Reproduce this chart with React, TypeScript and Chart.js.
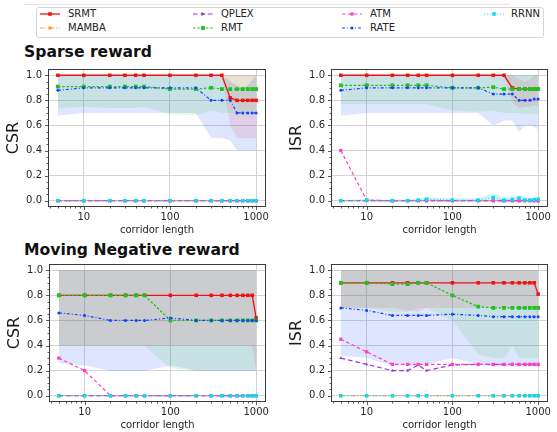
import React, { useEffect, useRef } from "react";
import { Chart, registerables } from "chart.js";
Chart.register(...registerables);

const FONT = "'DejaVu Sans', 'Liberation Sans', sans-serif";

// ---------- shared axes ----------
const corridorLengths = [5, 10, 20, 30, 40, 50, 100, 200, 300, 400, 500, 600, 700, 800, 900, 1000];
const xMajorTicks = [10, 100, 1000];
const yTickValues = [0, 0.2, 0.4, 0.6, 0.8, 1.0];
const seriesNames = ["SRMT", "MAMBA", "QPLEX", "RMT", "ATM", "RATE", "RRNN"];
const allZero = [0, 0, 0, 0, 0, 0, 0, 0, 0, 0, 0, 0, 0, 0, 0, 0];
const allOne = [1, 1, 1, 1, 1, 1, 1, 1, 1, 1, 1, 1, 1, 1, 1, 1];

// ---------- Sparse reward : CSR ----------
const sparseCsrSRMT = [1, 1, 1, 1, 1, 1, 1, 1, 1, 1, 0.82, 0.8, 0.8, 0.8, 0.8, 0.8];
const sparseCsrRMT = [0.91, 0.91, 0.91, 0.91, 0.91, 0.91, 0.89, 0.89, 0.9, 0.89, 0.89, 0.89, 0.89, 0.89, 0.89, 0.89];
const sparseCsrRATE = [0.88, 0.9, 0.9, 0.9, 0.9, 0.9, 0.9, 0.9, 0.8, 0.8, 0.8, 0.7, 0.7, 0.7, 0.7, 0.7];
const sparseCsrSRMTLow = [1, 1, 1, 1, 1, 1, 1, 1, 1, 1, 0.6, 0.5, 0.5, 0.5, 0.5, 0.5];
const sparseCsrRMTLow = [0.74, 0.75, 0.74, 0.74, 0.74, 0.75, 0.69, 0.68, 0.72, 0.7, 0.7, 0.7, 0.7, 0.7, 0.7, 0.7];
const sparseCsrRATEHigh = [1, 1, 1, 1, 1, 1, 1, 1, 1, 1, 0.95, 0.92, 0.9, 0.92, 0.96, 1];
const sparseCsrRATELow = [0.68, 0.7, 0.7, 0.7, 0.7, 0.7, 0.7, 0.7, 0.5, 0.5, 0.48, 0.4, 0.4, 0.4, 0.4, 0.4];

// ---------- Sparse reward : ISR ----------
const sparseIsrSRMT = [1, 1, 1, 1, 1, 1, 1, 1, 1, 1, 0.9, 0.89, 0.89, 0.89, 0.89, 0.89];
const sparseIsrRMT = [0.92, 0.92, 0.92, 0.92, 0.92, 0.92, 0.9, 0.9, 0.905, 0.89, 0.89, 0.89, 0.89, 0.89, 0.89, 0.89];
const sparseIsrRATE = [0.88, 0.9, 0.9, 0.9, 0.9, 0.9, 0.9, 0.9, 0.85, 0.85, 0.85, 0.8, 0.8, 0.8, 0.81, 0.81];
const sparseIsrATM = [0.4, 0.005, 0, 0, 0, 0, 0, 0, 0, 0, 0, 0, 0, 0, 0, 0];
const sparseIsrRRNN = [0, 0.005, 0, 0, 0.005, 0.012, 0.005, 0.005, 0.025, 0.005, 0.01, 0.02, 0.005, 0.005, 0.008, 0.012];
const sparseIsrSRMTHigh = [1, 1, 1, 1, 1, 1, 1, 1, 1, 1, 1, 0.97, 0.95, 0.97, 1, 1];
const sparseIsrSRMTLow = [1, 1, 1, 1, 1, 1, 1, 1, 1, 1, 0.78, 0.74, 0.75, 0.75, 0.76, 0.76];
const sparseIsrRMTLow = [0.77, 0.77, 0.77, 0.77, 0.77, 0.77, 0.72, 0.71, 0.72, 0.7, 0.7, 0.7, 0.69, 0.69, 0.69, 0.69];
const sparseIsrRATELow = [0.68, 0.7, 0.7, 0.7, 0.7, 0.7, 0.7, 0.7, 0.6, 0.64, 0.64, 0.55, 0.6, 0.6, 0.59, 0.57];
const sparseIsrRRNNHigh = [0.005, 0.01, 0.01, 0.01, 0.02, 0.03, 0.02, 0.02, 0.06, 0.03, 0.03, 0.045, 0.03, 0.02, 0.025, 0.03];
const sparseIsrRRNNLow = [-0.005, -0.01, -0.01, -0.01, -0.01, -0.005, -0.01, -0.01, -0.01, -0.02, -0.01, -0.005, -0.01, -0.01, -0.01, -0.005];

// ---------- Moving Negative reward : CSR ----------
const movingCsrSRMT = [0.8, 0.8, 0.8, 0.8, 0.8, 0.8, 0.8, 0.8, 0.8, 0.8, 0.8, 0.8, 0.8, 0.8, 0.8, 0.62];
const movingCsrRMT = [0.8, 0.8, 0.8, 0.8, 0.8, 0.8, 0.6, 0.6, 0.6, 0.6, 0.6, 0.6, 0.6, 0.6, 0.6, 0.6];
const movingCsrRATE = [0.66, 0.64, 0.6, 0.6, 0.6, 0.6, 0.62, 0.6, 0.6, 0.6, 0.6, 0.6, 0.6, 0.6, 0.6, 0.6];
const movingCsrATM = [0.3, 0.2, 0, 0, 0, 0, 0, 0, 0, 0, 0, 0, 0, 0, 0, 0];
const movingCsrSRMTLow = [0.4, 0.4, 0.4, 0.4, 0.4, 0.4, 0.4, 0.4, 0.4, 0.4, 0.4, 0.4, 0.4, 0.4, 0.4, 0.2];
const movingCsrRMTLow = [0.4, 0.4, 0.4, 0.4, 0.4, 0.4, 0.22, 0.2, 0.2, 0.2, 0.2, 0.2, 0.2, 0.2, 0.2, 0.2];
const movingCsrRATELow = [0.26, 0.24, 0.2, 0.2, 0.2, 0.2, 0.24, 0.2, 0.2, 0.2, 0.2, 0.2, 0.2, 0.2, 0.2, 0.2];

// ---------- Moving Negative reward : ISR ----------
const movingIsrSRMT = [0.9, 0.9, 0.9, 0.9, 0.9, 0.9, 0.9, 0.9, 0.9, 0.9, 0.9, 0.9, 0.9, 0.9, 0.9, 0.81];
const movingIsrRMT = [0.9, 0.9, 0.89, 0.89, 0.9, 0.9, 0.8, 0.71, 0.7, 0.7, 0.7, 0.7, 0.7, 0.7, 0.7, 0.7];
const movingIsrRATE = [0.7, 0.68, 0.64, 0.64, 0.64, 0.64, 0.65, 0.64, 0.63, 0.63, 0.63, 0.63, 0.63, 0.63, 0.63, 0.63];
const movingIsrATM = [0.45, 0.35, 0.25, 0.25, 0.25, 0.25, 0.25, 0.25, 0.25, 0.25, 0.25, 0.25, 0.25, 0.25, 0.25, 0.25];
const movingIsrQPLEX = [0.3, 0.25, 0.2, 0.2, 0.245, 0.2, 0.245, 0.25, 0.25, 0.25, 0.25, 0.25, 0.25, 0.25, 0.25, 0.25];
const movingIsrSRMTLow = [0.7, 0.7, 0.7, 0.68, 0.67, 0.7, 0.7, 0.7, 0.7, 0.7, 0.7, 0.7, 0.7, 0.7, 0.7, 0.62];
const movingIsrRMTLow = [0.7, 0.7, 0.67, 0.67, 0.7, 0.7, 0.6, 0.33, 0.3, 0.3, 0.4, 0.3, 0.3, 0.3, 0.3, 0.3];
const movingIsrRATELow = [0.32, 0.3, 0.24, 0.24, 0.24, 0.25, 0.3, 0.25, 0.23, 0.23, 0.23, 0.23, 0.23, 0.23, 0.23, 0.23];

// ---------- styles ----------
type Style = { color: string; rgb: string; alpha: number; dash: number[]; point: string; radius: number; width: number };
const styles: Record<string, Style> = {
  SRMT: { color: "#ee1111", rgb: "235,20,20", alpha: 0.1, dash: [], point: "rect", radius: 2.5, width: 1.3 },
  MAMBA: { color: "#ff9933", rgb: "255,150,50", alpha: 0.15, dash: [4, 1.5, 1, 1.5, 1, 1.5], point: "rect", radius: 2.2, width: 1.2 },
  QPLEX: { color: "#9b30e0", rgb: "155,48,224", alpha: 0.15, dash: [4.5, 3], point: "triangle", radius: 1.8, width: 1.2 },
  RMT: { color: "#22c022", rgb: "40,200,40", alpha: 0.12, dash: [2.5, 1.8], point: "rect", radius: 2.7, width: 1.2 },
  ATM: { color: "#ff40c0", rgb: "255,64,192", alpha: 0.15, dash: [3.5, 2.5], point: "rect", radius: 2.3, width: 1.2 },
  RATE: { color: "#1144ff", rgb: "30,80,255", alpha: 0.15, dash: [3, 2, 1, 2], point: "circle", radius: 1.5, width: 1.2 },
  RRNN: { color: "#11d8f0", rgb: "20,215,240", alpha: 0.2, dash: [1, 2.2], point: "rect", radius: 2.5, width: 1.2 },
};

type Band = { name: string; low: number[]; high: number[] };
type PanelDef = {
  yLabel: string;
  lines: Record<string, number[]>;
  bands: Band[];
  left: number;
  top: number;
  width: number;
  padRight: number;
};

const panels: PanelDef[] = [
  {
    yLabel: "CSR",
    lines: { SRMT: sparseCsrSRMT, MAMBA: allZero, QPLEX: allZero, RMT: sparseCsrRMT, ATM: allZero, RATE: sparseCsrRATE, RRNN: allZero },
    bands: [
      { name: "SRMT", low: sparseCsrSRMTLow, high: allOne },
      { name: "RMT", low: sparseCsrRMTLow, high: allOne },
      { name: "RATE", low: sparseCsrRATELow, high: sparseCsrRATEHigh },
    ],
    left: 4, top: 60, width: 272, padRight: 10,
  },
  {
    yLabel: "ISR",
    lines: { SRMT: sparseIsrSRMT, MAMBA: allZero, QPLEX: allZero, RMT: sparseIsrRMT, ATM: sparseIsrATM, RATE: sparseIsrRATE, RRNN: sparseIsrRRNN },
    bands: [
      { name: "SRMT", low: sparseIsrSRMTLow, high: sparseIsrSRMTHigh },
      { name: "RMT", low: sparseIsrRMTLow, high: allOne },
      { name: "RATE", low: sparseIsrRATELow, high: allOne },
      { name: "RRNN", low: sparseIsrRRNNLow, high: sparseIsrRRNNHigh },
    ],
    left: 287, top: 60, width: 270, padRight: 9,
  },
  {
    yLabel: "CSR",
    lines: { SRMT: movingCsrSRMT, MAMBA: allZero, QPLEX: allZero, RMT: movingCsrRMT, ATM: movingCsrATM, RATE: movingCsrRATE, RRNN: allZero },
    bands: [
      { name: "SRMT", low: movingCsrSRMTLow, high: allOne },
      { name: "RMT", low: movingCsrRMTLow, high: allOne },
      { name: "RATE", low: movingCsrRATELow, high: allOne },
    ],
    left: 5, top: 255, width: 271, padRight: 10,
  },
  {
    yLabel: "ISR",
    lines: { SRMT: movingIsrSRMT, MAMBA: allZero, QPLEX: movingIsrQPLEX, RMT: movingIsrRMT, ATM: movingIsrATM, RATE: movingIsrRATE, RRNN: allZero },
    bands: [
      { name: "SRMT", low: movingIsrSRMTLow, high: allOne },
      { name: "RMT", low: movingIsrRMTLow, high: allOne },
      { name: "RATE", low: movingIsrRATELow, high: allOne },
    ],
    left: 287, top: 255, width: 270, padRight: 9,
  },
];

const CANVAS_H = 176;
const PAD_TOP = 9;
const X_AXIS_H = 29;
const Y_AXIS_W = 44;

const framePlugin = {
  id: "frame",
  afterDatasetsDraw(chart: any) {
    const { ctx, chartArea: a } = chart;
    const xs = chart.scales.x;
    const ys = chart.scales.y;
    ctx.save();
    const l = Math.round(a.left) + 0.5;
    const t = Math.round(a.top) + 0.5;
    const r = Math.round(a.right) - 0.5;
    const b = Math.round(a.bottom) - 0.5;
    ctx.strokeStyle = "#3c3c3c";
    ctx.lineWidth = 1;
    ctx.strokeRect(l, t, r - l, b - t);
    ctx.strokeStyle = "#333";
    ctx.lineWidth = 0.8;
    ctx.beginPath();
    for (const dec of [1, 10, 100]) {
      for (let k = 2; k <= 9; k++) {
        const v = k * dec;
        if (v < xs.min || v > xs.max) continue;
        const px = Math.round(xs.getPixelForValue(v)) + 0.5;
        ctx.moveTo(px, b);
        ctx.lineTo(px, b + 2);
      }
    }
    for (const v of xMajorTicks) {
      const px = Math.round(xs.getPixelForValue(v)) + 0.5;
      ctx.moveTo(px, b);
      ctx.lineTo(px, b + 3.5);
    }
    for (let k = 0; k <= 20; k++) {
      const v = k * 0.05;
      const py = Math.round(ys.getPixelForValue(v)) + 0.5;
      const len = k % 4 === 0 ? 3.5 : 2;
      ctx.moveTo(l, py);
      ctx.lineTo(l - len, py);
    }
    ctx.stroke();
    ctx.restore();
  },
};

function toPoints(values: number[]) {
  return values.map((v, i) => ({ x: corridorLengths[i], y: v }));
}

function Panel({ def }: { def: PanelDef }) {
  const ref = useRef<HTMLCanvasElement>(null);
  useEffect(() => {
    if (!ref.current) return;
    const datasets: any[] = [];
    def.bands.forEach((b) => {
      const st = styles[b.name];
      datasets.push({
        data: toPoints(b.high), borderWidth: 0, borderColor: "transparent", pointRadius: 0, fill: false, order: 50,
      });
      datasets.push({
        data: toPoints(b.low), borderWidth: 0, borderColor: "transparent", pointRadius: 0,
        fill: "-1", backgroundColor: `rgba(${st.rgb},${st.alpha})`, order: 50,
      });
    });
    seriesNames.forEach((n, i) => {
      const st = styles[n];
      datasets.push({
        label: n,
        data: toPoints(def.lines[n]),
        borderColor: st.color,
        backgroundColor: st.color,
        borderDash: st.dash,
        borderWidth: st.width,
        pointStyle: st.point,
        pointRadius: st.radius,
        pointBackgroundColor: st.color,
        pointBorderColor: st.color,
        pointBorderWidth: 0,
        fill: false,
        tension: 0,
        order: 10 - i,
      });
    });
    const tickFont = { family: FONT, size: 10 };
    const chart = new Chart(ref.current, {
      type: "line",
      data: { datasets },
      plugins: [framePlugin],
      options: {
        animation: false,
        responsive: false,
        maintainAspectRatio: false,
        events: [],
        layout: { padding: { left: 0, top: PAD_TOP, right: def.padRight, bottom: 0 } },
        plugins: {
          legend: { display: false },
          tooltip: { enabled: false },
          filler: { drawTime: "beforeDatasetsDraw", propagate: false },
        } as any,
        scales: {
          x: {
            type: "logarithmic",
            min: 3.84,
            max: 1303,
            afterBuildTicks: (s: any) => {
              s.ticks = xMajorTicks.map((v) => ({ value: v }));
            },
            ticks: {
              callback: (v: any) => String(v),
              font: tickFont,
              color: "#262626",
              padding: 4,
              autoSkip: false,
              maxRotation: 0,
              minRotation: 0,
            },
            grid: { color: "#d4d4d4", lineWidth: 1, drawTicks: false },
            border: { display: false },
            title: { display: true, text: "corridor length", font: tickFont, color: "#262626", padding: 0 },
            afterFit: (s: any) => {
              s.height = X_AXIS_H;
              s.paddingLeft = 0;
              s.paddingRight = 0;
            },
          } as any,
          y: {
            type: "linear",
            min: -0.05,
            max: 1.05,
            afterBuildTicks: (s: any) => {
              s.ticks = yTickValues.map((v) => ({ value: v }));
            },
            ticks: {
              callback: (v: any) => Number(v).toFixed(1),
              font: tickFont,
              color: "#262626",
              padding: 6,
              autoSkip: false,
            },
            grid: { color: "#d4d4d4", lineWidth: 1, drawTicks: false },
            border: { display: false },
            title: { display: true, text: def.yLabel, font: { family: FONT, size: 16 }, color: "#1a1a1a", padding: 0 },
            afterFit: (s: any) => {
              s.width = Y_AXIS_W;
              s.paddingTop = 0;
              s.paddingBottom = 0;
            },
          } as any,
        },
      },
    });
    return () => chart.destroy();
  }, [def]);
  return (
    <canvas
      ref={ref}
      width={def.width}
      height={CANVAS_H}
      style={{ position: "absolute", left: def.left, top: def.top, width: def.width, height: CANVAS_H }}
    />
  );
}

const legendLayout: { name: string; lineX: number; textX: number; y: number }[] = [
  { name: "SRMT", lineX: 40, textX: 68, y: 13.5 },
  { name: "MAMBA", lineX: 40, textX: 68, y: 27.5 },
  { name: "QPLEX", lineX: 193, textX: 221, y: 13.5 },
  { name: "RMT", lineX: 193, textX: 221, y: 27.5 },
  { name: "ATM", lineX: 342, textX: 370, y: 13.5 },
  { name: "RATE", lineX: 342, textX: 370, y: 27.5 },
  { name: "RRNN", lineX: 484, textX: 511, y: 13.5 },
];

function LegendMarker({ name }: { name: string }) {
  const st = styles[name];
  if (st.point === "circle") return <circle cx={10} cy={4} r={st.radius} fill={st.color} />;
  if (st.point === "triangle") return <polygon points="8.5,2 12,4 8.5,6" fill={st.color} />;
  const s = st.radius * Math.SQRT2;
  return <rect x={10 - s / 2} y={4 - s / 2} width={s} height={s} fill={st.color} />;
}

function Legend() {
  return (
    <>
      <div style={{ position: "absolute", left: 24, top: 4, width: 486, height: 1, background: "#e4e4e4" }} />
      <div
        style={{
          position: "absolute", left: 36, top: 7, width: 506, height: 29,
          border: "1px solid #d6d6d6", borderRadius: 3, background: "#fff",
        }}
      />
      {legendLayout.map((it) => {
        const st = styles[it.name];
        return (
          <React.Fragment key={it.name}>
            <svg width={20} height={8} style={{ position: "absolute", left: it.lineX, top: it.y - 4 }}>
              <line x1={0} y1={4} x2={20} y2={4} stroke={st.color} strokeWidth={st.width} strokeDasharray={st.dash.length ? st.dash.join(" ") : undefined} />
              <LegendMarker name={it.name} />
            </svg>
            <div
              style={{
                position: "absolute", left: it.textX, top: it.y - 7, height: 14, lineHeight: "14px",
                fontFamily: FONT, fontSize: 10, color: "#222", whiteSpace: "nowrap",
              }}
            >
              {it.name}
            </div>
          </React.Fragment>
        );
      })}
    </>
  );
}

const titleStyle: React.CSSProperties = {
  position: "absolute", left: 24, height: 20, lineHeight: "20px",
  fontFamily: FONT, fontWeight: "bold", fontSize: 15.6, color: "#111", whiteSpace: "nowrap",
};

export default function App() {
  return (
    <div style={{ position: "absolute", left: 0, top: 0, width: 557, height: 432, background: "#fff", overflow: "hidden" }}>
      <Legend />
      <div style={{ ...titleStyle, top: 42 }}>Sparse reward</div>
      <div style={{ ...titleStyle, top: 240 }}>Moving Negative reward</div>
      {panels.map((p, i) => (
        <Panel key={i} def={p} />
      ))}
    </div>
  );
}
